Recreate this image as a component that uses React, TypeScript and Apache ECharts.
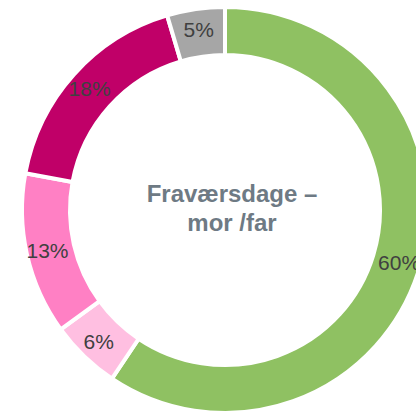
import React, { useEffect, useRef } from "react";
import * as echarts from "echarts";

const categories = ["Far", "Mor 1", "Mor 2", "Mor 3", "Andet"];
const values = [59.4, 5.6, 12.9, 17.5, 4.6];
const labels = ["60%", "6%", "13%", "18%", "5%"];
const colors = ["#8FC162", "#FFBFE1", "#FF80C4", "#C00068", "#A6A6A6"];
const centerLines = ["Fraværsdage –", "mor /far"];

export default function App() {
  const ref = useRef<HTMLDivElement>(null);
  useEffect(() => {
    if (!ref.current) return;
    const chart = echarts.init(ref.current, undefined, { renderer: "svg" });
    chart.setOption({
      animation: false,
      backgroundColor: "#ffffff",
      graphic: [
        {
          type: "text",
          x: 232,
          y: 208,
          style: {
            text: centerLines.join("\n"),
            textAlign: "center",
            textVerticalAlign: "middle",
            font: "bold 24px 'Liberation Sans', Arial, sans-serif",
            lineHeight: 29,
            fill: "#6E7A84",
          },
        },
      ],
      series: [
        {
          type: "pie",
          center: [225, 210],
          radius: [155, 203],
          startAngle: 90,
          clockwise: true,
          avoidLabelOverlap: false,
          itemStyle: { borderColor: "#ffffff", borderWidth: 4 },
          label: {
            show: true,
            position: "inside",
            formatter: (p: any) => labels[p.dataIndex],
            fontFamily: "'Liberation Sans', Arial, sans-serif",
            fontSize: 21,
            color: "#404040",
          },
          labelLine: { show: false },
          emphasis: { disabled: true },
          data: categories.map((c, i) => ({
            name: c,
            value: values[i],
            itemStyle: { color: colors[i] },
          })),
        },
      ],
    });
    return () => chart.dispose();
  }, []);
  return (
    <div
      ref={ref}
      style={{ width: 416, height: 412, position: "absolute", left: 0, top: 0 }}
    />
  );
}
